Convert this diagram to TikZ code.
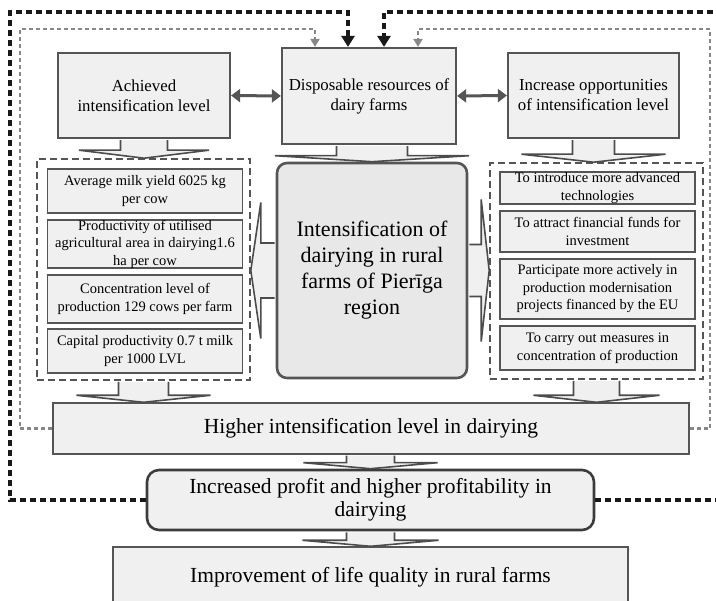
\documentclass[tikz,border=0pt]{standalone}
\usepackage{fontspec}
\setmainfont{Liberation Serif}
\usetikzlibrary{arrows.meta,calc}

\definecolor{boxgray}{RGB}{240,240,240}
\definecolor{coregray}{RGB}{232,232,232}
\definecolor{edgegray}{RGB}{85,85,85}
\definecolor{loopgray}{RGB}{135,135,135}
\definecolor{loopblack}{RGB}{25,25,25}

\tikzset{
  topbox/.style={draw=edgegray, line width=2.2pt, fill=boxgray, align=center,
    inner sep=0pt, font=\fontsize{16.8}{20}\selectfont},
  itembox/.style={draw=edgegray, line width=1.4pt, fill=boxgray, align=center,
    inner sep=0pt, minimum width=195pt, font=\fontsize{14.5}{17.5}\selectfont},
  groupbox/.style={draw=edgegray, line width=1.6pt, dash pattern=on 7pt off 4pt,
    inner sep=0pt, minimum width=213pt},
  widebox/.style={draw=edgegray, line width=1.4pt, fill=boxgray, align=center,
    inner sep=0pt, font=\fontsize{21.5}{23}\selectfont},
  blockarrow/.style={draw=edgegray!90!black, line width=1.6pt, fill=boxgray, line join=miter},
  linkarrow/.style={draw=edgegray, line width=3pt,
    {Triangle[length=9pt,width=13pt]}-{Triangle[length=9pt,width=13pt]}},
  blackloop/.style={draw=loopblack, line width=3.3pt, dash pattern=on 6pt off 4pt,
    -{Triangle[length=11pt,width=13pt]}},
  grayloop/.style={draw=loopgray, line width=2.2pt, dash pattern=on 4pt off 3pt,
    -{Triangle[length=8pt,width=9pt]}}
}

% block arrow pointing down: from, tip, shaft half, head half, head height
\newcommand{\blockdown}[5]{%
  \filldraw[blockarrow] let \p1=(#1), \p2=(#2) in
    (\x2-#3pt,\y1-1pt) -- (\x2-#3pt,\y2+#5pt) -- (\x2-#4pt,\y2+#5pt) -- (\x2,\y2)
    -- (\x2+#4pt,\y2+#5pt) -- (\x2+#3pt,\y2+#5pt) -- (\x2+#3pt,\y1-1pt);
}
% block arrow pointing sideways: from, tip, shaft half, head half, head length, direction
\newcommand{\blockside}[6]{%
  \filldraw[blockarrow] let \p1=(#1), \p2=(#2) in
    (\x1+#6*1pt,\y2+#3pt) -- (\x2-#6*#5pt,\y2+#3pt) -- (\x2-#6*#5pt,\y2+#4pt) -- (\x2,\y2)
    -- (\x2-#6*#5pt,\y2-#4pt) -- (\x2-#6*#5pt,\y2-#3pt) -- (\x1+#6*1pt,\y2-#3pt);
}

\begin{document}
\begin{tikzpicture}[x=1pt, y=-1pt]
\useasboundingbox (0,0) rectangle (716,601);
\clip (0,0) rectangle (716,601);

% top row
\node[topbox, minimum width=172pt, minimum height=85pt] (ach) at (144,95.5)
  {Achieved\\intensification level};
\node[topbox, minimum width=174pt, minimum height=96pt] (disp) at (369,96)
  {Disposable resources of\\dairy farms};
\node[topbox, minimum width=171pt, minimum height=85pt] (incr) at (593.5,95.5)
  {Increase opportunities\\of intensification level};

% centre
\node[draw=edgegray, line width=2.6pt, fill=coregray, rounded corners=10pt,
      minimum width=190pt, minimum height=215pt, inner sep=0pt, align=center,
      font=\fontsize{22}{26}\selectfont] (core) at (372,270.5)
  {Intensification of\\dairying in rural\\farms of Pierīga\\region};

% left group
\node[groupbox, minimum height=221pt] (lgrp) at (143.5,269.5) {};
\node[itembox, minimum height=44pt] (la) at (145,191)
  {Average milk yield 6025 kg\\per cow};
\node[itembox, minimum height=48pt] (lb) at (145,244)
  {Productivity of utilised\\agricultural area in dairying1.6\\ha per cow};
\node[itembox, minimum height=48pt] (lc) at (145,299)
  {Concentration level of\\production 129 cows per farm};
\node[itembox, minimum height=44pt] (ld) at (145,351)
  {Capital productivity 0.7 t milk\\per 1000 LVL};

% right group
\node[groupbox, minimum height=216pt] (rgrp) at (596.5,271) {};
\node[itembox, minimum height=32pt] (ra) at (597.5,188)
  {To introduce more advanced\\technologies};
\node[itembox, minimum height=41pt] (rb) at (597.5,231.5)
  {To attract financial funds for\\investment};
\node[itembox, minimum height=60pt] (rc) at (597.5,289)
  {Participate more actively in\\production modernisation\\projects financed by the EU};
\node[itembox, minimum height=44pt] (rd) at (597.5,348)
  {To carry out measures in\\concentration of production};

% bottom chain
\node[widebox, minimum width=636pt, minimum height=51pt] (high) at (371,428.5)
  {Higher intensification level in dairying};
\node[widebox, draw=loopblack!85, line width=2.6pt, rounded corners=12pt,
      minimum width=447pt, minimum height=60pt] (prof) at (370.5,500)
  {Increased profit and higher profitability in\\dairying};
\node[widebox, minimum width=515pt, minimum height=60pt] (impr) at (370.5,577)
  {Improvement of life quality in rural farms};

% block arrows
\blockdown{ach.south}{ach.south |- lgrp.north}{23.5}{65}{8}
\blockdown{disp.south}{core.north}{35.5}{97}{6}
\blockdown{incr.south}{incr.south |- rgrp.north}{21}{72}{8}
\blockdown{lgrp.south}{lgrp.south |- high.north}{25}{67}{7}
\blockdown{rgrp.south}{rgrp.south |- high.north}{23}{63}{7}
\blockdown{high.south}{prof.north}{24}{67}{6}
\blockdown{prof.south}{impr.north}{24}{68}{6}
\blockside{core.west}{lgrp.east |- core.west}{27.5}{68}{10}{-1}
\blockside{core.east}{rgrp.west |- core.east}{26}{71}{8}{1}

% links between top boxes
\draw[linkarrow] (ach.east) -- (disp.west);
\draw[linkarrow] (disp.east) -- (incr.west);

% feedback loops
\coordinate (blackW) at (10,12);
\coordinate (blackE) at (720,12);
\coordinate (grayW) at (20,29);
\coordinate (grayE) at (710,29);
\draw[blackloop] (prof.west) -| (blackW) -| ($(disp.north)+(-21,0)$);
\draw[blackloop] (prof.east) -| (blackE) -| ($(disp.north)+(15,0)$);
\draw[grayloop] (high.west) -| (grayW) -| ($(disp.north)+(-54,0)$);
\draw[grayloop] (high.east) -| (grayE) -| ($(disp.north)+(49,0)$);
\end{tikzpicture}
\end{document}
